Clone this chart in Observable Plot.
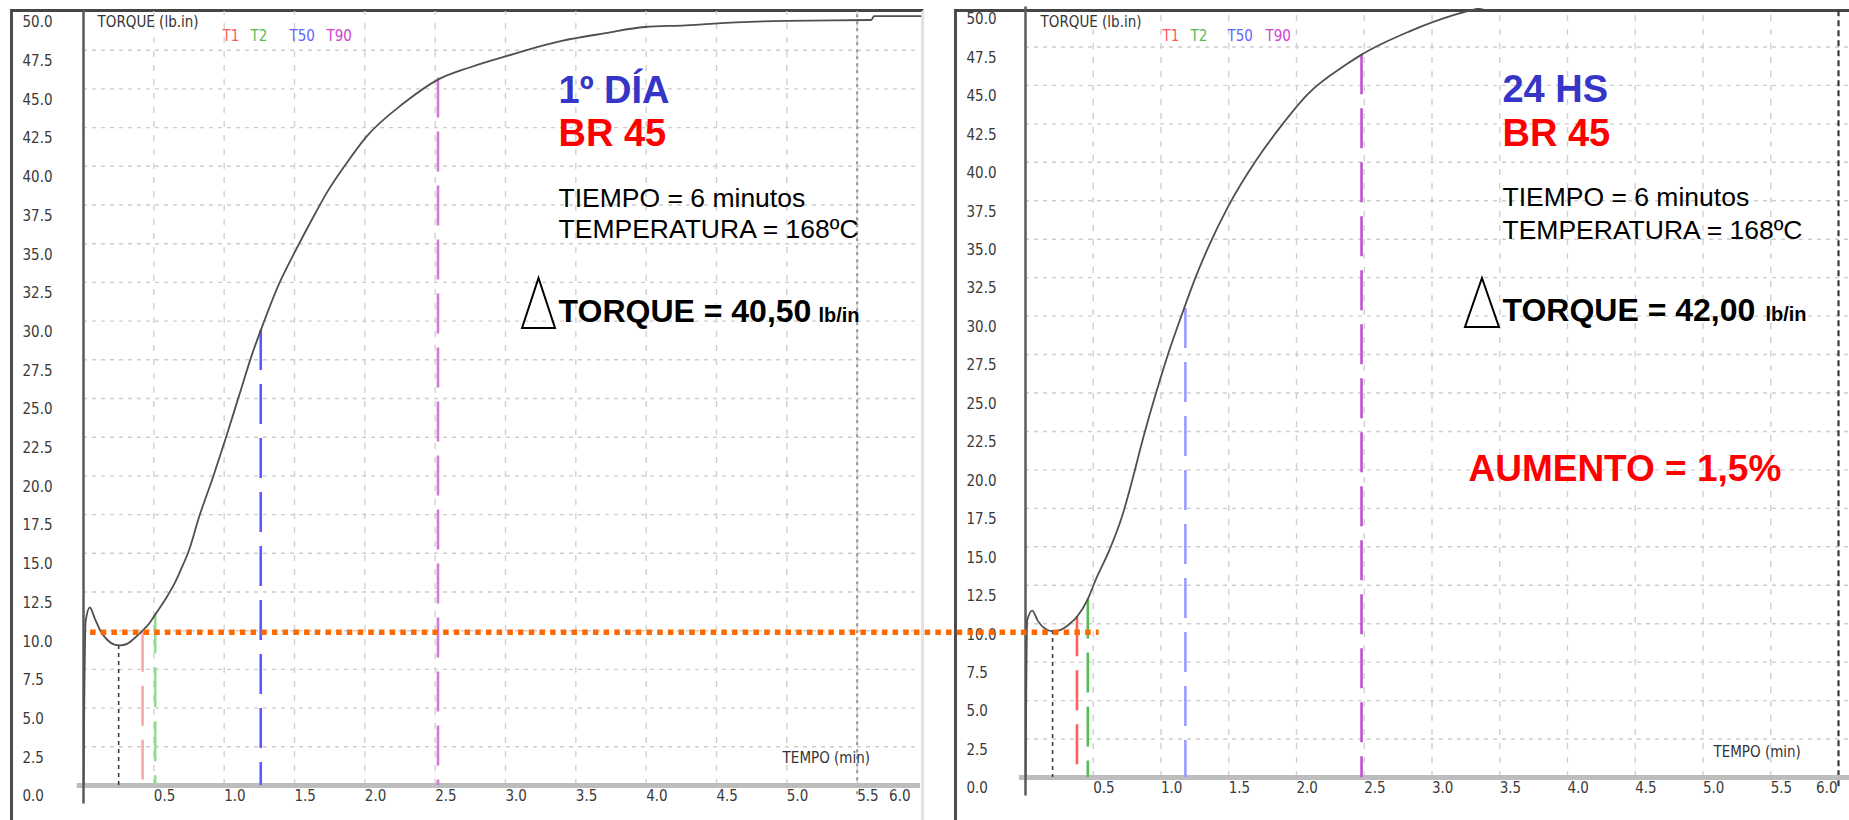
<!DOCTYPE html>
<html><head><meta charset="utf-8">
<script src="https://cdn.jsdelivr.net/npm/d3@7"></script>
<script src="https://cdn.jsdelivr.net/npm/@observablehq/plot@0.6"></script>
<style>
html,body{margin:0;padding:0;background:#fff;}
#wrap{position:relative;width:1849px;height:820px;overflow:hidden;background:#fff;}
.panel{position:absolute;top:0;}
.frame{position:absolute;box-sizing:border-box;}
#wrap svg{overflow:visible;}
</style></head><body>
<div id="wrap">
  <div class="frame" style="left:10px;top:9px;width:914px;height:811px;border-left:3px solid #4d4d4d;border-top:3px solid #454545;border-right:3px solid #e2e2e2;"></div>
  <div class="frame" style="left:954px;top:9px;width:895px;height:811px;border-left:3px solid #4d4d4d;border-top:3px solid #454545;"></div>
  <div id="right" class="panel" style="left:940px;z-index:1"></div>
  <div id="left" class="panel" style="left:0px;z-index:2"></div>
</div>
<script>
// ---- data ----
const yTicks = [0,2.5,5,7.5,10,12.5,15,17.5,20,22.5,25,27.5,30,32.5,35,37.5,40,42.5,45,47.5,50];
const xTicks = [0.5,1,1.5,2,2.5,3,3.5,4,4.5,5,5.5,6];
const gridY = [2.5,5,7.5,10,12.5,15,17.5,20,22.5,25,27.5,30,32.5,35,37.5,40,42.5,45,47.5];
const gridX = [0.5,1,1.5,2,2.5,3,3.5,4,4.5,5,5.5];

// 1º DÍA curve (time min, torque lb.in)
const dayTime   = [0,0.005,0.015,0.045,0.08,0.12,0.17,0.22,0.26,0.31,0.36,0.42,0.47,0.51,0.58,0.65,0.70,0.75,0.82,0.92,1.01,1.11,1.20,1.26,1.39,1.51,1.65,1.73,1.87,2.01,2.28,2.52,2.75,3.0,3.4,3.71,3.99,4.28,4.64,5.0,5.6,5.62,5.95];
const dayTorque = [0,5,10.6,11.5,10.8,10.0,9.4,9.1,9.05,9.15,9.5,10.0,10.5,11.05,12.0,13.1,14.1,15.2,17.3,19.9,22.4,25.3,27.9,29.4,32.4,34.6,37.0,38.3,40.2,41.9,44.1,45.6,46.4,47.1,48.1,48.6,49.0,49.1,49.3,49.4,49.45,49.7,49.7];

// 24 HS curve
const hsTime   = [0,0.005,0.012,0.05,0.09,0.14,0.2,0.26,0.32,0.38,0.46,0.52,0.62,0.71,0.79,0.86,0.96,1.04,1.15,1.25,1.35,1.5,1.7,1.89,2.08,2.375,2.48,2.83,3.17,3.5,4.0,4.5,5.0,6.0];
const hsTorque = [0,5,10.2,10.85,10.2,9.7,9.5,9.6,9.95,10.45,11.6,12.9,14.8,16.9,19.4,21.8,24.9,27.2,30.0,32.4,34.5,37.2,40.1,42.4,44.4,46.4,47.0,48.5,49.6,50.3,50.9,51.2,51.4,51.5];

const markerNames = ["min","T1","T2","T50","T90"];
const dayMarkTime   = [0.25,0.42,0.51,1.26,2.52];
const dayMarkTorque = [9.05,9.9,11.1,29.4,45.7];
const hsMarkTime    = [0.20,0.38,0.46,1.18,2.48];
const hsMarkTorque  = [9.55,10.45,11.6,30.5,47.0];
const dayEnd = 5.5, hsEnd = 6.0;
const refTorque = 9.9;   // orange reference line (left-panel torque)

const narrow = "'Liberation Sans Narrow','DejaVu Sans Condensed',sans-serif";
const sans = "'Liberation Sans',Arial,sans-serif";

function triangleMark(t0, T0, w, h) {
  return (index, scales) => {
    const x = scales.x(t0), y = scales.y(T0);
    return d3.create("svg:path")
      .attr("d", `M${x},${y}L${x + w / 2},${y - h}L${x + w},${y}Z`)
      .attr("fill", "none").attr("stroke", "#000").attr("stroke-width", 2)
      .attr("stroke-linejoin", "miter").node();
  };
}

function panel(c) {
  const curve = c.time.map((t, i) => ({t, T: c.torque[i]}));
  const markerMarks = c.markTime.map((t, i) => Plot.ruleX([t], {
    y1: c.markTorque[i], y2: 0, stroke: c.markColors[i],
    strokeWidth: i === 0 ? 1.6 : 2.6,
    strokeDasharray: i === 0 ? "4,4" : "40,14"
  }));
  const legendMarks = markerNames.slice(1).map((n, i) => Plot.text([n], {
    x: c.legendX[i], y: c.legendY, text: d => d, textAnchor: "start",
    fill: c.legendColors[i], fontSize: 15, fontFamily: narrow
  }));
  const lbl = {fontFamily: narrow, fontSize: 15, fill: "#3a3a3a"};
  const A = c.ann;
  return Plot.plot({
    width: c.width, height: 820,
    marginLeft: c.ml, marginRight: c.mr, marginTop: c.mt, marginBottom: c.mb,
    x: {domain: [0, 6], axis: null},
    y: {domain: [0, 50], axis: null},
    style: {background: "transparent", overflow: "visible"},
    marks: [
      Plot.ruleY(gridY, {x1: 0, x2: c.xEnd, stroke: "#cdcdcd", strokeWidth: 1.4, strokeDasharray: "4,5"}),
      Plot.ruleX(gridX, {y1: 0, y2: 50, stroke: "#d0d0d0", strokeWidth: 1.4, strokeDasharray: "6,8"}),
      Plot.ruleX([c.end], {y1: -0.6, y2: 50, stroke: c.endColor, strokeWidth: 2.2, strokeDasharray: c.endDash}),
      Plot.ruleY([0], {x1: -0.045, x2: c.xEnd, stroke: "#bdbdbd", strokeWidth: 5}),
      Plot.ruleX([0], {y1: -1.2, y2: 50.1, stroke: "#5a5a5a", strokeWidth: 2.5}),
      ...markerMarks,
      Plot.line(curve, {x: "t", y: "T", stroke: "#4f4f4f", strokeWidth: 1.8, curve: "monotone-x", clip: true}),
      ...(c.orange ? [Plot.ruleY([refTorque], {x1: 0.05, x2: 7.22, stroke: "#ff6a00", strokeWidth: 5.5, strokeDasharray: "5.5,5.2"})] : []),
      // tick labels
      Plot.text(yTicks, {y: d => d, text: d => d.toFixed(1), frameAnchor: "left", textAnchor: "start", dx: c.yLabelDx, dy: 11, ...lbl}),
      Plot.text(xTicks.slice(0, -1), {x: d => d, y: 0, text: d => d.toFixed(1), textAnchor: "start", dy: 11, ...lbl}),
      Plot.text(xTicks.slice(-1), {x: d => d, y: 0, text: d => d.toFixed(1), textAnchor: "end", dx: c.lastDx, dy: 11, ...lbl}),
      Plot.text(["TORQUE (lb.in)"], {x: c.yTitle[0], y: c.yTitle[1], text: d => d, textAnchor: "start", ...lbl, fill: "#333"}),
      Plot.text(["TEMPO (min)"], {x: c.xTitle[0], y: c.xTitle[1], text: d => d, textAnchor: "start", ...lbl, fill: "#333"}),
      ...legendMarks,
      // annotations
      Plot.text([c.title], {x: A.x, y: A.y1, text: d => d, textAnchor: "start", lineAnchor: "bottom", fill: "#3535c8", fontSize: 38, fontWeight: "bold", fontFamily: sans}),
      Plot.text(["BR 45"], {x: A.x, y: A.y2, text: d => d, textAnchor: "start", lineAnchor: "bottom", fill: "#ff0000", fontSize: 38, fontWeight: "bold", fontFamily: sans}),
      Plot.text(["TIEMPO = 6 minutos"], {x: A.x, y: A.y3, text: d => d, textAnchor: "start", lineAnchor: "bottom", fill: "#000", fontSize: 26.5, fontFamily: sans}),
      Plot.text(["TEMPERATURA = 168ºC"], {x: A.x, y: A.y4, text: d => d, textAnchor: "start", lineAnchor: "bottom", fill: "#000", fontSize: 26.5, fontFamily: sans}),
      triangleMark(A.triX, A.triY, A.triW, A.triH),
      Plot.text([c.torqueText], {x: A.x, y: A.y5, text: d => d, textAnchor: "start", lineAnchor: "bottom", fill: "#000", fontSize: 32, fontWeight: "bold", fontFamily: sans}),
      Plot.text(["lb/in"], {x: A.unitX, y: A.y5, text: d => d, textAnchor: "start", lineAnchor: "bottom", fill: "#000", fontSize: 20, fontWeight: "bold", fontFamily: sans}),
      ...(c.extra ? [Plot.text([c.extra], {x: A.exX, y: A.exY, text: d => d, textAnchor: "start", lineAnchor: "bottom", fill: "#ff0000", fontSize: 37, fontWeight: "bold", fontFamily: sans})] : [])
    ]
  });
}

const left = panel({
  width: 940, ml: 83, mr: 13, mt: 11, mb: 35, xEnd: 5.95,
  time: dayTime, torque: dayTorque, markTime: dayMarkTime, markTorque: dayMarkTorque,
  markColors: ["#3c3c3c", "#ffa6a6", "#94dc94", "#5a5aff", "#d47ad4"],
  legendColors: ["#ff5a5a", "#55bb55", "#6464ff", "#cc44cc"],
  legendX: [0.988, 1.187, 1.464, 1.727], legendY: 48.39,
  end: dayEnd, endColor: "#9a9a9a", endDash: "3,4",
  orange: true, yLabelDx: -61, lastDx: -17,
  yTitle: [0.10, 49.29], xTitle: [4.97, 1.74],
  title: "1º DÍA", torqueText: "TORQUE = 40,50",
  ann: {x: 3.377, y1: 44.12, y2: 41.34, y3: 37.34, y4: 35.34, y5: 29.91, unitX: 5.225,
        triX: 3.121, triY: 29.52, triW: 33, triH: 50}
});

const right = panel({
  width: 909, ml: 85, mr: 11, mt: 8, mb: 43, xEnd: 6.1,
  time: hsTime, torque: hsTorque, markTime: hsMarkTime, markTorque: hsMarkTorque,
  markColors: ["#3c3c3c", "#ff5e5e", "#55bb55", "#9a9aff", "#bb55cc"],
  legendColors: ["#ff5a5a", "#55bb55", "#6464ff", "#cc44cc"],
  legendX: [1.011, 1.218, 1.491, 1.771], legendY: 48.18,
  end: hsEnd, endColor: "#3a3a3a", endDash: "6,4",
  orange: false, yLabelDx: -59, lastDx: -1,
  yTitle: [0.111, 49.09], xTitle: [5.077, 1.625],
  title: "24 HS", torqueText: "TORQUE = 42,00",
  extra: "AUMENTO = 1,5%",
  ann: {x: 3.52, y1: 43.89, y2: 41.09, y3: 37.19, y4: 35.04, y5: 29.71, unitX: 5.461,
        triX: 3.247, triY: 29.26, triW: 34, triH: 49, exX: 3.269, exY: 19.31}
});

document.getElementById("left").appendChild(left);
document.getElementById("right").appendChild(right);
</script>
</body></html>
